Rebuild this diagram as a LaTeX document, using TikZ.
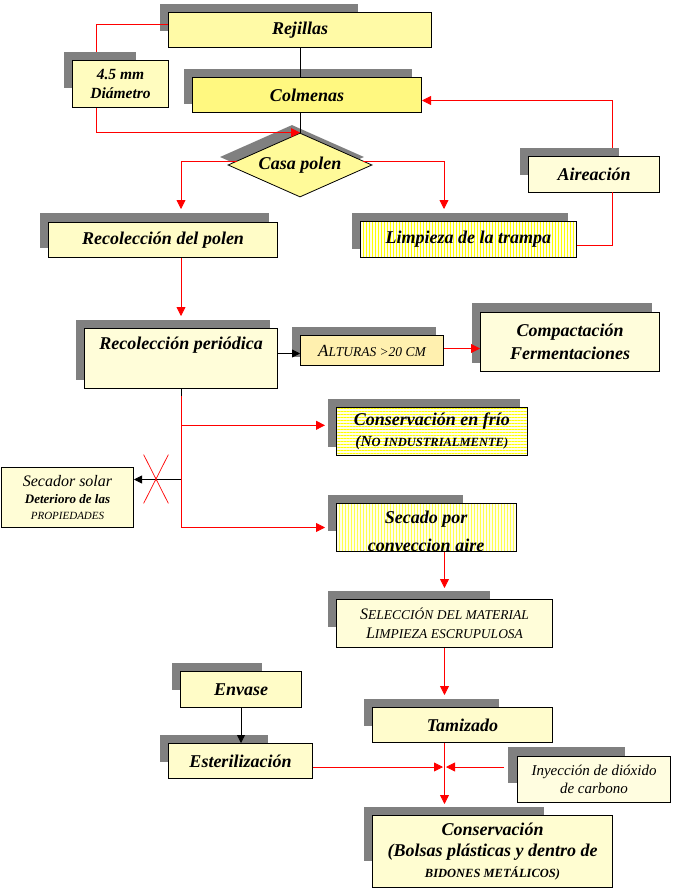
\documentclass[tikz,border=0pt]{standalone}
\usepackage{fontspec}
\setmainfont{Liberation Serif}
\usetikzlibrary{arrows.meta,shapes.geometric,shapes.misc,calc,patterns.meta}
\definecolor{shgray}{RGB}{128,128,128}
\definecolor{pale}{RGB}{255,255,212}
\definecolor{altf}{RGB}{255,240,175}
\begin{document}
\begin{tikzpicture}[x=1pt,y=-1pt,
  bx/.style={draw=black, line width=1pt, rectangle, inner sep=0pt, align=center, anchor=north west, fill=pale},
  shd/.style={fill=shgray},
  ttl/.style={font=\fontsize{18}{23}\selectfont\bfseries\itshape},
  rl/.style={draw=red, line width=0.8pt},
  ra/.style={rl, -{Triangle[length=9pt,width=9pt]}},
  bl/.style={draw=black, line width=0.8pt},
  ba/.style={bl, -{Triangle[length=8pt,width=8pt]}},
  vlines/.style={preaction={fill=yellow!8}, pattern={Lines[angle=90,distance=3pt,line width=0.6pt]}, pattern color=#1},
  hlines/.style={preaction={fill=yellow!8}, pattern={Lines[angle=0,distance=3pt,line width=0.6pt]}, pattern color=#1},
]
\useasboundingbox (0,0) rectangle (676,891);
\fill[white] (0,0) rectangle (676,891);

% ---------- shadows ----------
\fill[shd] (160,4) rectangle (358,31);
\fill[shd] (64,52) rectangle (136,88);
\fill[shd] (184,69) rectangle (412,104);
\node[diamond, fill=shgray, aspect=2.25, minimum width=144pt, minimum height=64pt, inner sep=0pt] (diash) at (292,157) {};
\fill[shd] (520,148) rectangle (619,175);
\fill[shd] (40,213) rectangle (269,248);
\fill[shd] (352,213) rectangle (568,249);
\fill[shd] (76,320) rectangle (270,380);
\fill[shd] (292,327) rectangle (436,357);
\fill[shd] (472,303) rectangle (652,363);
\fill[shd] (328,399) rectangle (520,447);
\fill[shd] (328,495) rectangle (463,531);
\fill[shd] (328,591) rectangle (490,627);
\fill[shd] (172,663) rectangle (262,690);
\fill[shd] (364,699) rectangle (499,726);
\fill[shd] (160,735) rectangle (268,762);
\fill[shd] (508,747) rectangle (625,783);
\fill[shd] (364,807) rectangle (544,861);

% ---------- boxes ----------
\node[bx, fill=yellow!35, minimum width=263pt, minimum height=35pt, ttl] (rej) at (168,12) {Rejillas};
\node[bx, fill=yellow!25, minimum width=96pt, minimum height=47pt,
  font=\fontsize{15.5}{19}\selectfont\bfseries\itshape] (d45) at (72,60) {4.5 mm\\Diámetro};
\node[bx, fill=yellow!50, minimum width=229pt, minimum height=35pt, ttl] (col) at (192,77) {Colmenas};
\node[diamond, draw=black, line width=0.8pt, fill=yellow!40, aspect=2.25, minimum width=144pt,
  minimum height=64pt, inner sep=0pt, ttl] (dia) at (300,165) {Casa polen};
\node[bx, fill=yellow!15, minimum width=131pt, minimum height=36pt, ttl] (air) at (528,156) {Aireación};
\node[bx, fill=yellow!22, minimum width=229pt, minimum height=35pt, ttl] (rpol) at (48,222) {Recolección del polen};
\node[bx, vlines=yellow, minimum width=216pt, minimum height=36pt, ttl] (lim) at (360,221) {Limpieza de la trampa};
\node[bx, fill=yellow!15, minimum width=193pt, minimum height=60pt, ttl, text depth=30pt] (rper) at (84,328) {Recolección periódica};
\node[bx, fill=altf, minimum width=143pt, minimum height=30pt, font=\fontsize{13.5}{20}\selectfont\itshape] (alt) at (300,335)
  {{\fontsize{17}{20}\selectfont A}LTURAS >20 CM};
\node[bx, fill=yellow!14, minimum width=179pt, minimum height=59pt, ttl] (comp) at (480,312) {Compactación\\Fermentaciones};
\node[bx, hlines=yellow, minimum width=191pt, minimum height=48pt,
  font=\fontsize{18}{20.5}\selectfont\bfseries\itshape] (cfrio) at (336,407)
  {Conservación en frío\\{\fontsize{15.5}{20.5}\selectfont (N}{\fontsize{12.5}{20.5}\selectfont O INDUSTRIALMENTE)}};
\node[bx, vlines=yellow!70, minimum width=180pt, minimum height=48pt] (sec) at (336,503) {};
\begin{scope}
  \clip ([xshift=0.5pt,yshift=-0.5pt]sec.north west) rectangle ([xshift=-0.5pt,yshift=0.5pt]sec.south east);
  \node[ttl, anchor=base, inner sep=0pt] (secT1) at (426,523) {Secado por};
  \node[ttl, anchor=base, inner sep=0pt] (secT2) at (426,551) {conveccion aire};
\end{scope}
\node[bx, fill=yellow!16, minimum width=132pt, minimum height=60pt, font=\fontsize{13}{16.5}\selectfont] (sol) at (1,467)
  {{\fontsize{16}{16.5}\selectfont\itshape Secador solar}\\{\fontsize{13}{16.5}\selectfont\bfseries\itshape Deterioro de las}\\{\fontsize{11}{16.5}\selectfont\itshape PROPIEDADES}};
\node[bx, fill=yellow!15, minimum width=216pt, minimum height=48pt, font=\fontsize{13.5}{19.5}\selectfont\itshape] (sel) at (336,599)
  {{\fontsize{16}{19.5}\selectfont S}ELECCIÓN DEL MATERIAL\\
   {\fontsize{16}{19.5}\selectfont L}IMPIEZA ESCRUPULOSA};
\node[bx, fill=yellow!22, minimum width=121pt, minimum height=36pt, ttl] (env) at (180,671) {Envase};
\node[bx, fill=yellow!20, minimum width=180pt, minimum height=35pt, ttl] (tam) at (372,707) {Tamizado};
\node[bx, fill=yellow!20, minimum width=144pt, minimum height=35pt, ttl] (est) at (168,743) {Esterilización};
\node[bx, fill=yellow!12, minimum width=153pt, minimum height=46pt,
  font=\fontsize{15}{18}\selectfont\itshape] (iny) at (517,756) {Inyección de dióxido\\de carbono};
\node[bx, fill=yellow!18, minimum width=240pt, minimum height=72pt,
  font=\fontsize{18}{21}\selectfont\bfseries\itshape] (cons) at (372,815)
  {Conservación\\(Bolsas plásticas y dentro de\\{\fontsize{12.5}{21}\selectfont BIDONES METÁLICOS)}};

% ---------- helper coordinates ----------
\coordinate (k1) at (96,52);
\coordinate (k2) at ([xshift=-24pt]d45.south);
\coordinate (aw) at (612,148);
\coordinate (as) at (612,192);
\coordinate (kl) at (181,209);
\coordinate (kr) at (444,209);
\coordinate (j0) at ([yshift=-7pt]rper.south);
\coordinate (cft) at ([xshift=-11pt,yshift=6pt]cfrio.west);
\coordinate (st) at ([xshift=-11pt]sec.west);
\coordinate (ss) at ([yshift=18pt]sol.east);
\coordinate (jn) at (444,767);

% ---------- connectors ----------
\draw[bl] (rej.south) -- (rej.south |- col.north);
\draw[bl] (col.south -| dia.north) -- (dia.north);
\draw[rl] ([yshift=5.5pt]rej.west) -| (k1);
\draw[ra] (k2) |- (dia.north);
\draw[ra] (aw) |- ([yshift=-5.5pt]col.east);
\draw[rl] ([yshift=-6pt]lim.east) -| (as);
\draw[ra] ($(dia.west)!0.125!(dia.north)$) -| (kl);
\draw[ra] ($(dia.east)!0.125!(dia.north)$) -| (kr);
\draw[ra] (rpol.south -| rper.north) -- ([yshift=12pt]rper.north);
\draw[ba] (rper.east |- alt.west) ++(0,3) -- ([yshift=-3pt]alt.west);
\draw[ra] ([yshift=2pt]alt.east) -- ([yshift=2pt]alt.east -| comp.west);
\draw[bl] (rper.south) -- (j0);
\draw[rl] (j0) -- (rper.south |- st);
\draw[ra] (rper.south |- cft) -- (cft);
\draw[ra] (rper.south |- st) -- (st);
\draw[ba] (rper.south |- ss) -- (ss);
\node[cross out, draw=red, line width=0.7pt, minimum width=24pt, minimum height=48pt, inner sep=0pt] (xm) at (156,479) {};
\draw[ra] (sec.south -| sel.north) -- ([yshift=11pt]sel.north);
\draw[ra] (sel.south) -- ([yshift=12pt]sel.south |- tam.north);
\draw[ra] (sel.south |- tam.south) -- ([yshift=11pt]sel.south |- cons.north);
\draw[ba] (env.south) -- (env.south |- est.north);
\draw[ra] (est.east |- jn) -- ([xshift=-1pt]jn);
\draw[ra] ([xshift=-13pt]iny.west |- jn) -- ([xshift=2pt]jn);
\end{tikzpicture}
\end{document}
